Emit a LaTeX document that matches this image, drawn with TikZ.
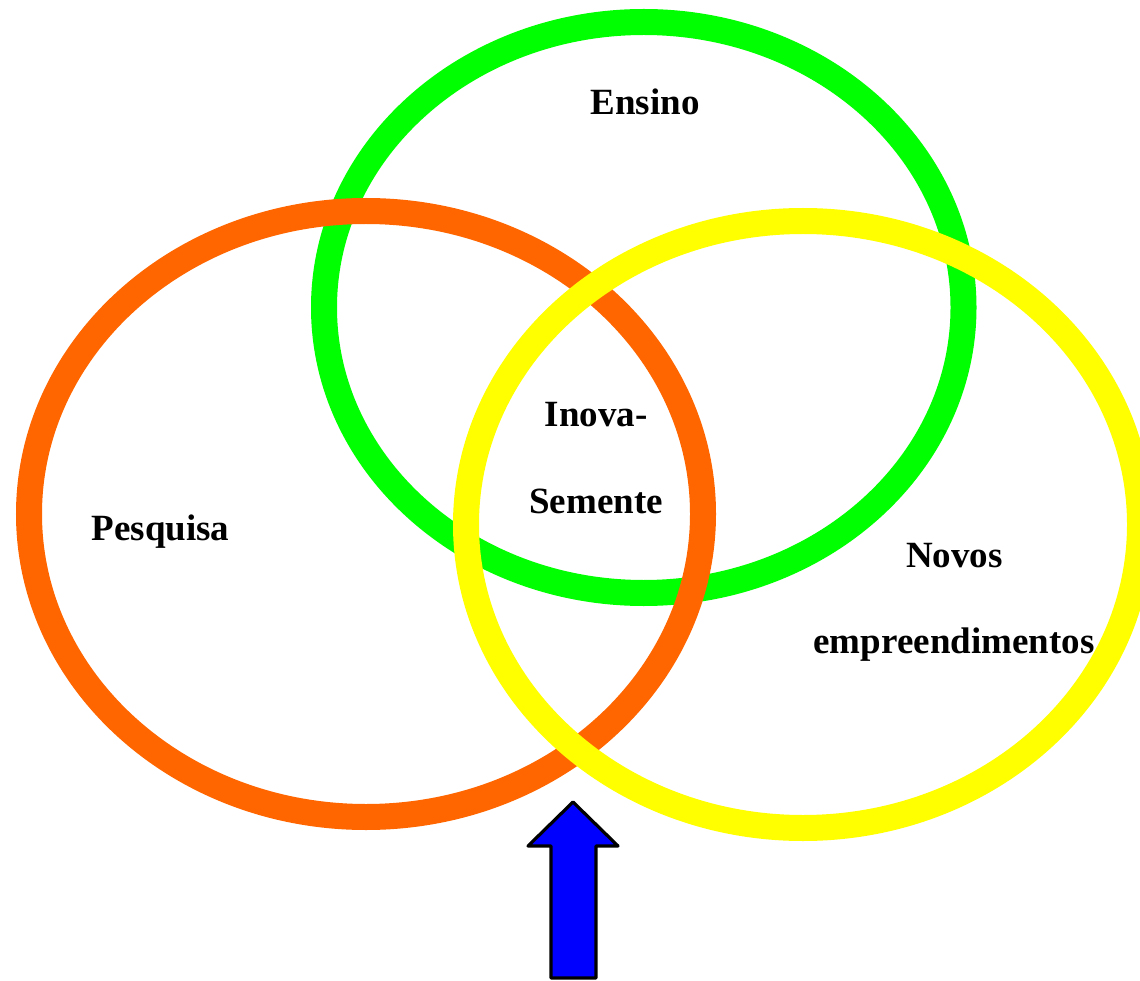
\documentclass[tikz,border=0pt]{standalone}
\usepackage{fontspec}
\setmainfont{Liberation Serif}
\definecolor{ringgreen}{RGB}{0,255,0}
\definecolor{ringorange}{RGB}{255,102,0}
\definecolor{ringyellow}{RGB}{255,255,0}
\definecolor{arrowblue}{RGB}{0,0,255}
\begin{document}
\begin{tikzpicture}[x=1pt,y=-1pt,
  ring/.style={line width=26pt},
  lbl/.style={font=\fontsize{37}{41}\selectfont\bfseries, anchor=base, inner sep=0pt},
  bigarrow/.style={fill=arrowblue, draw=black, line width=3.2pt, line join=round}]
\useasboundingbox (0,0) rectangle (1140,981);
\clip (0,0) rectangle (1140,981);
\draw[ring, draw=ringgreen] (643.75,307.5) ellipse [x radius=319.75, y radius=285.5];
\draw[ring, draw=ringorange] (366,514) ellipse [x radius=337, y radius=303];
\draw[ring, draw=ringyellow] (803,524.5) ellipse [x radius=337, y radius=303.5];
\draw[bigarrow] (573,802) -- (618,846) -- (596,846) -- (596,978) -- (551,978) -- (551,846) -- (528,846) -- cycle;
\node[lbl] (ensino) at (645,115) {Ensino};
\node[lbl] (pesquisa) at (160.5,540) {Pesquisa};
\node[lbl] (inova) at (596,426) {Inova-};
\node[lbl] (semente) at (596,513) {Semente};
\node[lbl] (novos) at (954.5,567) {Novos};
\node[lbl] (empre) at (954,653) {empreendimentos};
\end{tikzpicture}
\end{document}
